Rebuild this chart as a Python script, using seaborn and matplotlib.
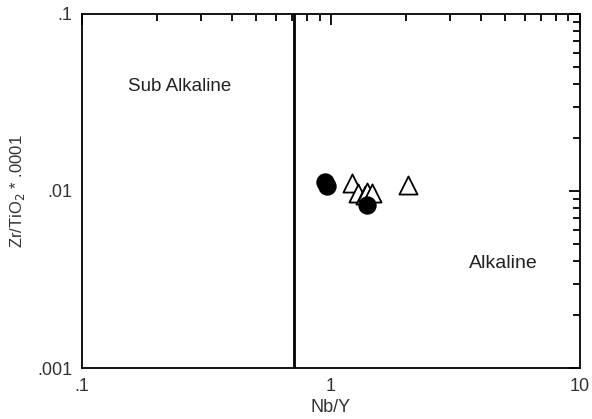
import pandas as pd
import seaborn as sns
import matplotlib.pyplot as plt
from matplotlib.ticker import FixedLocator, FixedFormatter, LogLocator, NullFormatter

# values
nb_y = [0.95, 0.96, 1.40, 1.22, 1.28, 1.37, 1.40, 1.46, 2.04]
zr_ti = [0.0112, 0.0107, 0.00834, 0.0111, 0.0097, 0.0095, 0.0099, 0.0097, 0.0108]
group = ['A', 'A', 'A', 'B', 'B', 'B', 'B', 'B', 'B']
boundary = 0.71

df = pd.DataFrame({'Nb/Y': nb_y, 'Zr': zr_ti, 'grp': group})

sns.set_style('white')
plt.rcParams['font.family'] = ['Liberation Sans', 'DejaVu Sans']

fig = plt.figure(figsize=(5.92, 4.19), dpi=100)
ax = fig.add_axes([0.1385, 0.1217, 0.841, 0.845])

tri = df[df['grp'] == 'B']
circ = df[df['grp'] == 'A']
sns.scatterplot(data=tri, x='Nb/Y', y='Zr', marker='^', s=170, facecolor='white',
                edgecolor='black', linewidth=1.3, ax=ax, zorder=3)
sns.scatterplot(data=circ, x='Nb/Y', y='Zr', marker='o', s=150, color='black',
                edgecolor='black', ax=ax, zorder=4)

ax.axvline(boundary, color='black', lw=2)

ax.set_xscale('log')
ax.set_yscale('log')
ax.set_xlim(0.1, 10)
ax.set_ylim(0.001, 0.1)

ax.xaxis.set_major_locator(FixedLocator([0.1, 1, 10]))
ax.xaxis.set_major_formatter(FixedFormatter(['.1', '1', '10']))
ax.yaxis.set_major_locator(FixedLocator([0.001, 0.01, 0.1]))
ax.yaxis.set_major_formatter(FixedFormatter(['.001', '.01', '.1']))
for a in (ax.xaxis, ax.yaxis):
    a.set_minor_locator(LogLocator(base=10, subs=range(2, 10)))
    a.set_minor_formatter(NullFormatter())

ax.tick_params(which='both', direction='in', top=True, right=True, width=1.3, colors='black',
               labelcolor='#333333', labelsize=13)
ax.tick_params(which='major', length=8, pad=7)
ax.tick_params(which='minor', length=5)
for s in ax.spines.values():
    s.set_color('black')
    s.set_linewidth(1.3)

ax.set_xlabel('Nb/Y', fontsize=13, labelpad=3, color='#333333')
ax.set_ylabel('Zr/TiO$_2$ * .0001', fontsize=12, labelpad=7, color='#333333')

ax.text(0.153, 0.0387, 'Sub Alkaline', fontsize=13.5, va='center', ha='left', color='#222222')
ax.text(3.6, 0.0039, 'Alkaline', fontsize=14, va='center', ha='left', color='#222222')

fig.savefig('out.png', dpi=100)
